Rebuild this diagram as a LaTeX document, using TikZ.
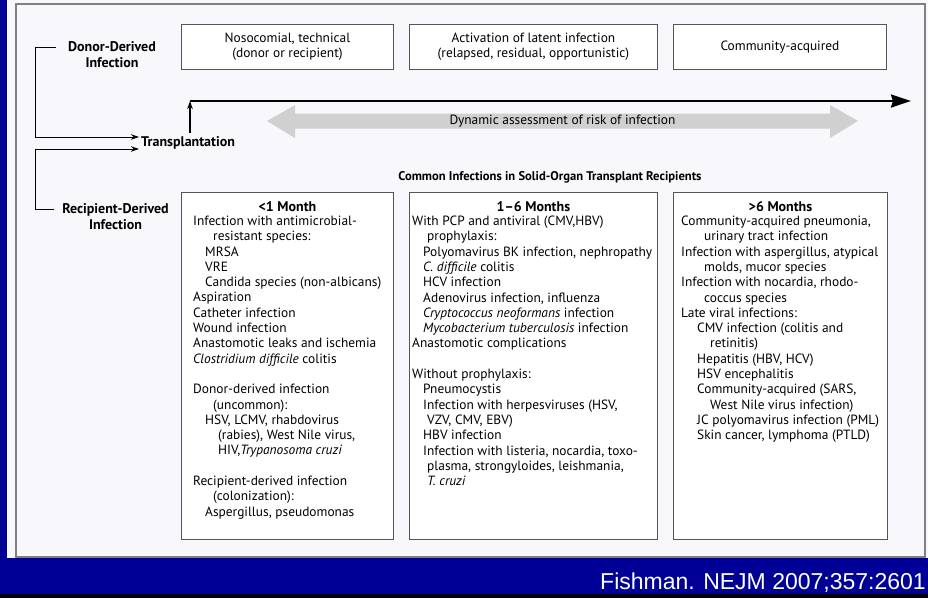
\documentclass[tikz,border=0pt]{standalone}
\usepackage{fontspec}
\setmainfont{PT Sans}
\newfontfamily\citefont{Liberation Sans}
\usetikzlibrary{arrows.meta, positioning, calc}
\definecolor{slideblue}{RGB}{0,0,150}
\definecolor{panelbg}{RGB}{248,248,252}
\definecolor{boxline}{RGB}{85,85,85}
\definecolor{assessgray}{RGB}{208,208,208}
\newcommand{\indnt}[1]{\hspace*{#1pt}}

\begin{document}
\begin{tikzpicture}[x=1pt, y=-1pt, >={Stealth[length=8pt,width=5.5pt]},
  phase/.style={draw=boxline, line width=0.9pt, fill=white, inner sep=0pt, anchor=north west,
    align=center, font=\fontsize{13.4}{15.3}\selectfont},
  listtext/.style={align=left, anchor=north west, inner sep=0pt, font=\fontsize{13.4}{15.3}\selectfont},
  period/.style={inner sep=0pt, font=\bfseries\fontsize{14}{15}\selectfont},
  side/.style={align=center, inner sep=0pt, font=\bfseries\fontsize{14}{16.5}\selectfont},
  link/.style={line width=0.9pt, ->}]
\useasboundingbox (0,0) rectangle (928,598);
% slide background and panel
\fill[slideblue] (0,0) rectangle (928,598);
\fill[black] (0,594) rectangle (928,598);
\fill[panelbg] (7,0) rectangle (928,558);
\draw[gray, line width=1.2pt] (16,4) rectangle (925,557);
% periods on top
\node[phase, minimum width=212pt, minimum height=45pt] (nosoc) at (181,24) {Nosocomial, technical\\(donor or recipient)};
\node[phase, minimum width=248pt, minimum height=45pt] (latent) at (409,24) {Activation of latent infection\\(relapsed, residual, opportunistic)};
\node[phase, minimum width=213pt, minimum height=45pt] (commun) at (673,24) {Community-acquired};
% time axis
\coordinate (t0) at (190,101);
\coordinate (t1) at (911,101);
\draw[line width=2.4pt, -{Stealth[length=20pt,width=13pt,inset=2pt]}] (t0) -- (t1);
\fill[assessgray] (267,121) -- (295,105) -- (295,113.5) -- (830,113.5) -- (830,105) -- (858,121)
  -- (830,138) -- (830,128.5) -- (295,128.5) -- (295,138) -- cycle;
\node[inner sep=0pt, font=\fontsize{13.4}{15}\selectfont] (assess) at (562.5,121) {Dynamic assessment of risk of infection};
% transplantation and sources
\node[side, anchor=west] (transp) at (141,143) {Transplantation};
\node[side] (donor) at (112,54.5) {Donor-Derived\\Infection};
\node[side] (recip) at (115.5,216.5) {Recipient-Derived\\Infection};
\coordinate (spine) at (35,0);
\coordinate (din) at ($(transp.west)+(-2,-6)$);
\coordinate (rin) at ($(transp.west)+(-2,6)$);
\draw[link] ($(donor.west)+(-12,-7.5)$) -| (spine |- din) -- (din);
\draw[link] ($(recip.west)+(-8,-7.5)$) -| (spine |- rin) -- (rin);
\draw[line width=1.4pt, ->, shorten <=3pt] (transp.north -| t0) -- (t0);
% common infections
\node[inner sep=0pt, font=\bfseries\fontsize{12.6}{15}\selectfont] (common) at (550,177) {Common Infections in Solid-Organ Transplant Recipients};
\node[phase, minimum width=212pt, minimum height=347pt] (early) at (181,192) {};
\node[phase, minimum width=248pt, minimum height=347pt] (middle) at (409,192) {};
\node[phase, minimum width=214pt, minimum height=347pt] (late) at (673,192) {};
\node[period, below=9.2pt of early.north] (earlyhead) {<1 Month};
\node[period, below=9.2pt of middle.north] (middlehead) {1–6 Months};
\node[period, below=9.2pt of late.north] (latehead) {>6 Months};
\node[listtext] (earlylist) at (193,215.8) {Infection with antimicrobial-\\
\indnt{20}resistant species:\\
\indnt{12}MRSA\\
\indnt{12}VRE\\
\indnt{12}Candida species (non-albicans)\\
Aspiration\\
Catheter infection\\
Wound infection\\
Anastomotic leaks and ischemia\\
\textit{Clostridium difficile} colitis\\
\mbox{}\\
Donor-derived infection\\
\indnt{20}(uncommon):\\
\indnt{12}HSV, LCMV, rhabdovirus\\
\indnt{25}(rabies), West Nile virus,\\
\indnt{25}HIV,\textit{Trypanosoma cruzi}\\
\mbox{}\\
Recipient-derived infection\\
\indnt{20}(colonization):\\
\indnt{12}Aspergillus, pseudomonas};
\node[listtext] (middlelist) at (412,215.8) {With PCP and antiviral (CMV,HBV)\\
\indnt{15}prophylaxis:\\
\indnt{11}Polyomavirus BK infection, nephropathy\\
\indnt{11}\textit{C. difficile} colitis\\
\indnt{11}HCV infection\\
\indnt{11}Adenovirus infection, influenza\\
\indnt{11}\textit{Cryptococcus neoformans} infection\\
\indnt{11}\textit{Mycobacterium tuberculosis} infection\\
Anastomotic complications\\
\mbox{}\\
Without prophylaxis:\\
\indnt{11}Pneumocystis\\
\indnt{11}Infection with herpesviruses (HSV,\\
\indnt{15}VZV, CMV, EBV)\\
\indnt{11}HBV infection\\
\indnt{11}Infection with listeria, nocardia, toxo-\\
\indnt{15}plasma, strongyloides, leishmania,\\
\indnt{15}\textit{T. cruzi}};
\node[listtext] (latelist) at (681,215.8) {Community-acquired pneumonia,\\
\indnt{23}urinary tract infection\\
Infection with aspergillus, atypical\\
\indnt{23}molds, mucor species\\
Infection with nocardia, rhodo-\\
\indnt{23}coccus species\\
Late viral infections:\\
\indnt{16}CMV infection (colitis and\\
\indnt{29}retinitis)\\
\indnt{16}Hepatitis (HBV, HCV)\\
\indnt{16}HSV encephalitis\\
\indnt{16}Community-acquired (SARS,\\
\indnt{29}West Nile virus infection)\\
\indnt{16}JC polyomavirus infection (PML)\\
\indnt{16}Skin cancer, lymphoma (PTLD)};
% source line
\node[anchor=base west, inner sep=0pt, text=white, font=\citefont\fontsize{23}{23}\selectfont] (cite) at (600,589) {Fishman. NEJM 2007;357:2601};
\end{tikzpicture}
\end{document}
